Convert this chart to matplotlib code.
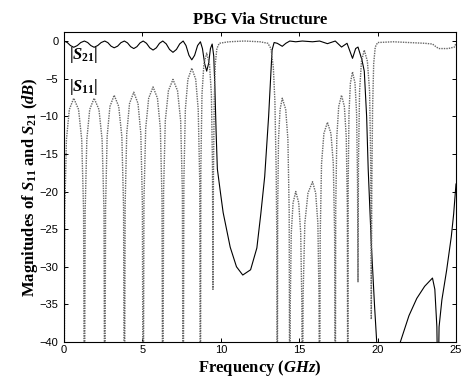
import matplotlib
matplotlib.use("Agg")
import matplotlib.pyplot as plt

plt.rcParams['font.family'] = ['Liberation Serif', 'DejaVu Serif']
plt.rcParams['mathtext.fontset'] = 'custom'
plt.rcParams['mathtext.rm'] = 'Liberation Serif:bold'
plt.rcParams['mathtext.bf'] = 'Liberation Serif:bold'
plt.rcParams['mathtext.it'] = 'Liberation Serif:bold:italic'

# ---- data ----
s11_freq = [
    0.00, 0.05, 0.155, 0.34, 0.62, 0.93, 1.13, 1.25, 1.30,
    1.35, 1.455, 1.64, 1.92, 2.23, 2.43, 2.55, 2.60,
    2.65, 2.75, 2.93, 3.20, 3.49, 3.69, 3.80, 3.85,
    3.90, 4.00, 4.18, 4.45, 4.72, 4.90, 5.00, 5.05,
    5.10, 5.21, 5.40, 5.68, 5.96, 6.145, 6.25, 6.30,
    6.35, 6.46, 6.66, 6.95, 7.24, 7.44, 7.55, 7.60,
    7.645, 7.74, 7.90, 8.15, 8.40, 8.56, 8.655, 8.70,
    8.73, 8.80, 8.92, 9.10, 9.28, 9.40, 9.47, 9.50,
    9.53, 9.58, 9.65, 9.75, 9.90, 10.5, 11.5, 12.5, 13.0, 13.2, 13.35, 13.45, 13.53, 13.57, 13.60,
    13.63, 13.68, 13.78, 13.92, 14.14, 14.28, 14.36, 14.40,
    14.43, 14.495, 14.61, 14.78, 14.97, 15.095, 15.17, 15.20,
    15.25, 15.36, 15.56, 15.85, 16.05, 16.19, 16.26, 16.30,
    16.34, 16.425, 16.575, 16.80, 17.025, 17.175, 17.26, 17.30,
    17.33, 17.40, 17.52, 17.70, 17.88, 18.00, 18.07, 18.10,
    18.125, 18.175, 18.265, 18.40, 18.56, 18.66, 18.72, 18.75,
    18.78, 18.85, 18.97, 19.15, 19.35, 19.49, 19.56, 19.60,
    19.63, 19.68, 19.75, 19.85, 20.0, 21.0, 22.0, 23.0, 23.5, 23.75, 23.9, 24.5, 24.9, 25.0,
]
s11_db = [
    -60, -22.6, -13.1, -9.1, -7.6, -9.1, -13.1, -22.6, -60,
    -22.6, -13.1, -9.1, -7.6, -9.1, -13.1, -22.6, -60,
    -22.2, -12.7, -8.7, -7.2, -8.7, -12.7, -22.2, -60,
    -21.8, -12.3, -8.3, -6.8, -8.3, -12.3, -21.8, -60,
    -21.1, -11.6, -7.6, -6.1, -7.6, -11.6, -21.1, -60,
    -20.1, -10.6, -6.6, -5.1, -6.6, -10.6, -20.1, -60,
    -18.6, -9.1, -5.1, -3.6, -5.1, -9.1, -18.6, -60,
    -16.6, -7.1, -3.1, -1.6, -3.1, -7.1, -16.6, -33,
    -18, -8, -3, -1.0, -0.3, -0.1, 0.0, -0.1, -0.3, -1.0, -3.5, -8, -17, -26, -60,
    -22.6, -13.1, -9.1, -7.6, -9.1, -13.1, -22.6, -60,
    -35, -25.5, -21.5, -20.0, -21.5, -25.5, -35, -60,
    -33.7, -24.2, -20.2, -18.7, -20.2, -24.2, -33.7, -60,
    -25.8, -16.3, -12.3, -10.8, -12.3, -16.3, -25.8, -60,
    -22.2, -12.7, -8.7, -7.2, -8.7, -12.7, -22.2, -60,
    -19.1, -9.6, -5.6, -4.1, -5.6, -9.6, -19.1, -32,
    -16.2, -6.7, -2.7, -1.2, -2.7, -6.7, -16.2, -37,
    -20, -9, -3, -0.8, -0.2, -0.1, -0.2, -0.3, -0.4, -0.8, -1.0, -1.0, -0.8, -0.3,
]

s21_freq = [
    0.0, 0.21, 0.41, 0.62, 0.85, 1.07, 1.30, 1.51, 1.71, 1.92, 2.15, 2.37, 2.60,
    2.80, 3.00, 3.20, 3.42, 3.63, 3.85, 4.05, 4.25, 4.45, 4.65, 4.85, 5.05,
    5.26, 5.47, 5.68, 5.89, 6.09, 6.30, 6.52, 6.73, 6.95, 7.17, 7.38, 7.60,
    7.78, 7.97, 8.15, 8.33, 8.52, 8.70, 8.83, 8.97, 9.10, 9.22, 9.34, 9.45,
    9.55, 9.62, 9.70, 9.78,
    10.0, 10.15, 10.6, 11.0, 11.4, 11.9, 12.3, 12.55, 12.8, 13.05, 13.27, 13.4,
    13.6, 13.92, 14.15, 14.4, 14.78, 15.2, 15.85, 16.3, 16.8, 17.3, 17.7, 18.05,
    18.4, 18.6, 18.75, 19.0, 19.15, 19.3, 19.4, 19.6, 19.8, 20.0, 21.3, 21.45,
    22.0, 22.5, 23.0, 23.5, 23.65, 23.78, 23.85, 23.92, 24.1, 24.4, 24.7, 24.85, 25.0,
]
s21_db = [
    0.0, -0.2, -0.6, -0.83, -0.6, -0.2, 0.0, -0.2, -0.6, -0.83, -0.6, -0.2, 0.0,
    -0.22, -0.68, -0.9, -0.68, -0.22, 0.0, -0.25, -0.75, -1.0, -0.75, -0.25, 0.0,
    -0.3, -0.9, -1.2, -0.9, -0.3, 0.0, -0.38, -1.12, -1.5, -1.12, -0.38, 0.0,
    -0.6, -1.9, -2.5, -1.9, -0.6, -0.1, -1.0, -3.0, -4.0, -3.0, -1.0, -0.4,
    -2.0, -6, -12, -17,
    -20.5, -22.8, -27.4, -30.0, -31.1, -30.4, -27.5, -23.0, -18.0, -10.0, -1.2, -0.2,
    -0.3, -0.7, -0.3, 0.0, -0.1, 0.0, -0.1, 0.0, -0.35, 0.0, -0.8, -0.3,
    -2.3, -1.0, -0.8, -2.5, -4.0, -10, -17, -27, -35, -42, -45, -40,
    -36.5, -34.2, -32.6, -31.5, -33, -38, -48, -38, -34.4, -30.5, -26, -23, -19,
]

x_ticks = [0, 5, 10, 15, 20, 25]
y_ticks = [0, -5, -10, -15, -20, -25, -30, -35, -40]

fig = plt.figure(figsize=(4.65, 3.78), dpi=100)
ax = fig.add_axes([64/465, 1-342/378, (456-64)/465, (342-32)/378])

ax.plot(s21_freq, s21_db, color='black', lw=0.8, solid_joinstyle='round')
ax.plot(s11_freq, s11_db, color='0.4', lw=1.0, linestyle=(0, (1, 0.8)))

ax.set_xlim(0, 25)
ax.set_ylim(-40, 1.2)
ax.set_xticks(x_ticks)
ax.set_yticks(y_ticks)
ax.tick_params(direction='in', length=3, width=0.7, top=True, right=True,
               labelsize=8)
ax.tick_params(axis='x', pad=2)
ax.tick_params(axis='y', pad=4)
for lab in ax.get_xticklabels() + ax.get_yticklabels():
    lab.set_fontfamily('Liberation Sans')
for sp in ax.spines.values():
    sp.set_linewidth(0.8)

ax.text(0.35, -1.9, r'$|S_{21}|$', fontsize=12, va='center', ha='left')
ax.text(0.35, -6.1, r'$|S_{11}|$', fontsize=12, va='center', ha='left')

ax.set_title('PBG Via Structure', fontsize=12, fontweight='bold', pad=6)
ax.set_xlabel(r'Frequency ($GHz$)', fontsize=12, fontweight='bold', labelpad=2)
ax.set_ylabel(r'Magnitudes of $S_{11}$ and $S_{21}$ ($dB$)', fontsize=12,
              fontweight='bold', labelpad=0)

fig.savefig('out.png', dpi=100)
